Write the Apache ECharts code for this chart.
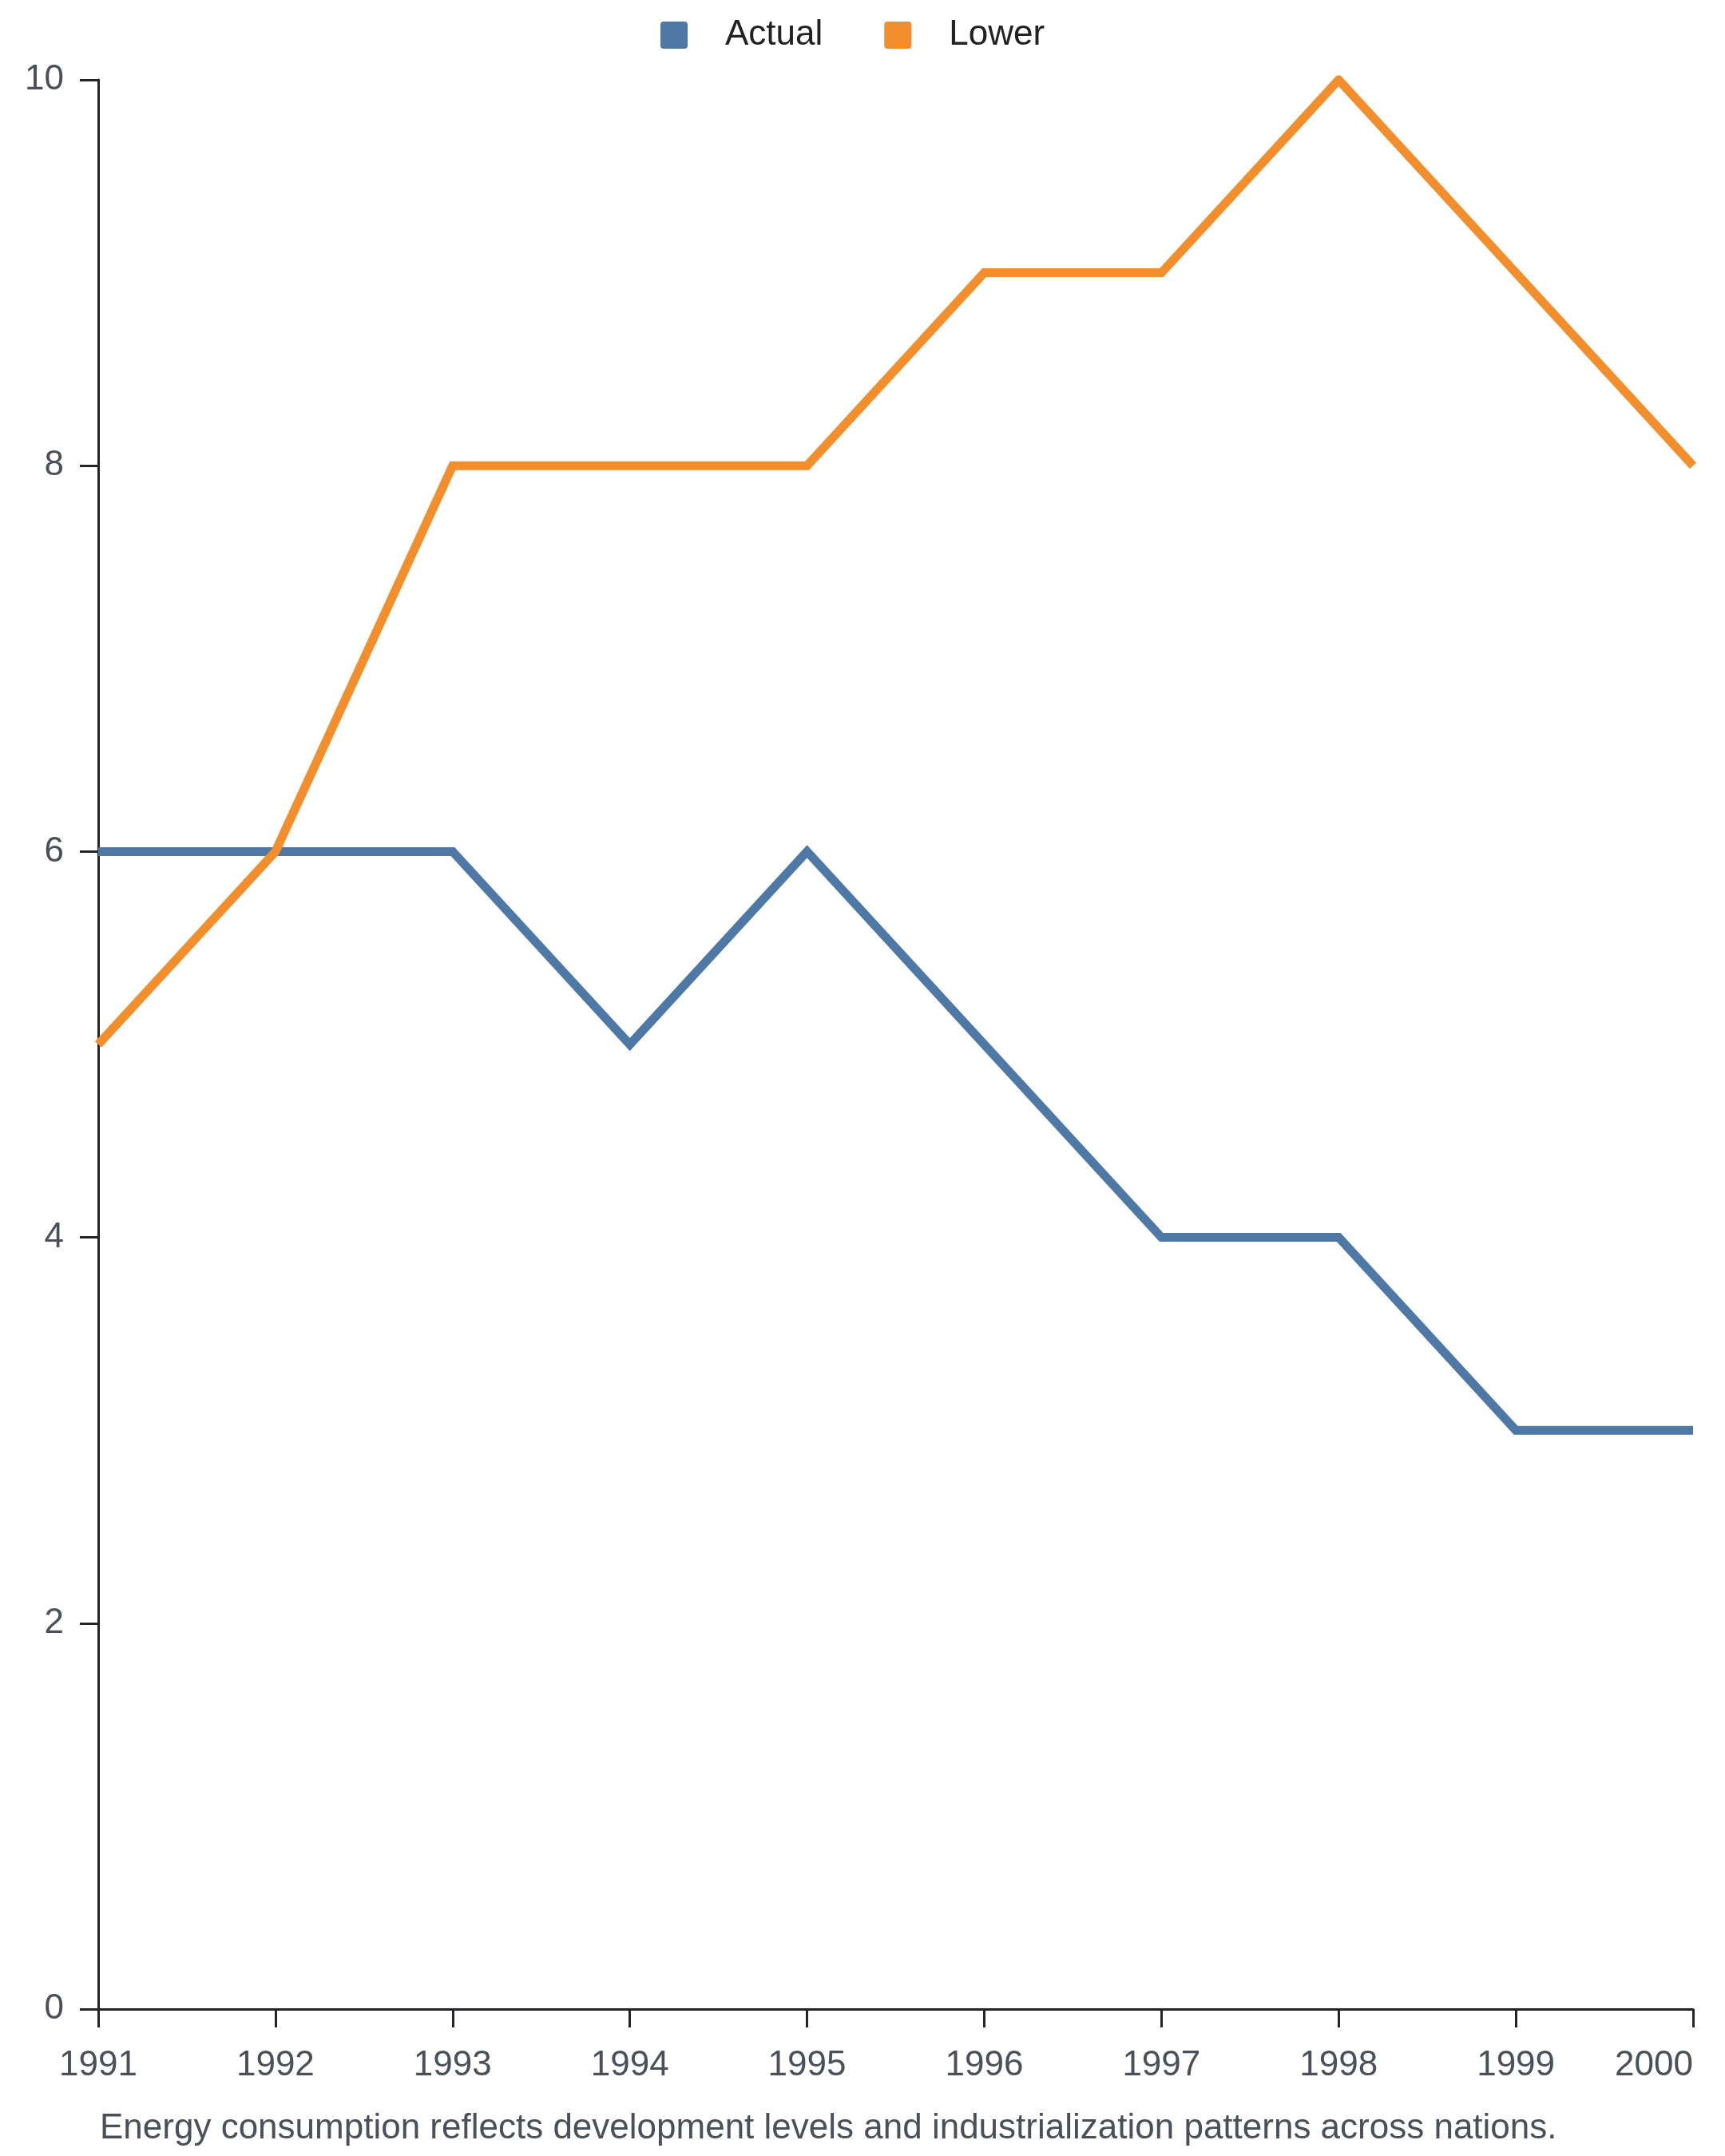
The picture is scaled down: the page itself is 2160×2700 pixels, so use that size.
<!DOCTYPE html>
<html>
<head>
<meta charset="utf-8">
<script src="https://cdn.jsdelivr.net/npm/echarts@6/dist/echarts.min.js"></script>
<style>
html,body{margin:0;padding:0;background:#fff;}
#chart{width:2160px;height:2700px;}
</style>
</head>
<body>
<div id="chart"></div>
<script>
const years = ['1991','1992','1993','1994','1995','1996','1997','1998','1999','2000'];
const actual = [6, 6, 6, 5, 6, 5, 4, 4, 3, 3];
const lower = [5, 6, 8, 8, 8, 9, 9, 10, 9, 8];
const yTicks = { min: 0, max: 10, interval: 2 };
const caption = 'Energy consumption reflects development levels and industrialization patterns across nations.';

const FONT = 'Liberation Sans, Arial, sans-serif';
const AXIS = '#222428';
const LABEL = '#4b5058';

const chart = echarts.init(document.getElementById('chart'), null, { renderer: 'canvas' });
chart.setOption({
  backgroundColor: '#ffffff',
  animation: false,
  textStyle: { fontFamily: FONT },
  legend: {
    left: 822,
    top: 17,
    itemWidth: 34,
    itemHeight: 34,
    itemGap: 77,
    icon: 'path://M4,0 L30,0 Q34,0 34,4 L34,30 Q34,34 30,34 L4,34 Q0,34 0,30 L0,4 Q0,0 4,0 Z',
    textStyle: { fontSize: 44, color: '#222222', fontFamily: FONT, padding: [0, 0, 0, 42] },
    data: ['Actual', 'Lower']
  },
  grid: { left: 123, right: 40, top: 100, bottom: 184, containLabel: false },
  xAxis: {
    type: 'category',
    data: years,
    boundaryGap: false,
    axisLine: { show: true, lineStyle: { color: AXIS, width: 3 } },
    axisTick: { show: true, length: 23, lineStyle: { color: AXIS, width: 3 } },
    axisLabel: { fontSize: 44, color: LABEL, margin: 49, fontFamily: FONT, alignMaxLabel: 'right' },
    splitLine: { show: false }
  },
  yAxis: {
    type: 'value',
    min: yTicks.min,
    max: yTicks.max,
    interval: yTicks.interval,
    axisLine: { show: true, lineStyle: { color: AXIS, width: 3 } },
    axisTick: { show: true, length: 23, lineStyle: { color: AXIS, width: 3 } },
    axisLabel: { fontSize: 44, color: LABEL, margin: 43, fontFamily: FONT },
    splitLine: { show: false }
  },
  series: [
    {
      name: 'Actual', type: 'line', data: actual, symbol: 'none',
      itemStyle: { color: '#4e79a7' },
      lineStyle: { color: '#4e79a7', width: 11, join: 'miter' }
    },
    {
      name: 'Lower', type: 'line', data: lower, symbol: 'none',
      itemStyle: { color: '#f28e2b' },
      lineStyle: { color: '#f28e2b', width: 11, join: 'miter' }
    }
  ],
  graphic: [
    {
      type: 'text',
      left: 125,
      top: 2644,
      style: { text: caption, font: '44px ' + FONT, fill: LABEL }
    }
  ]
});
</script>
</body>
</html>
